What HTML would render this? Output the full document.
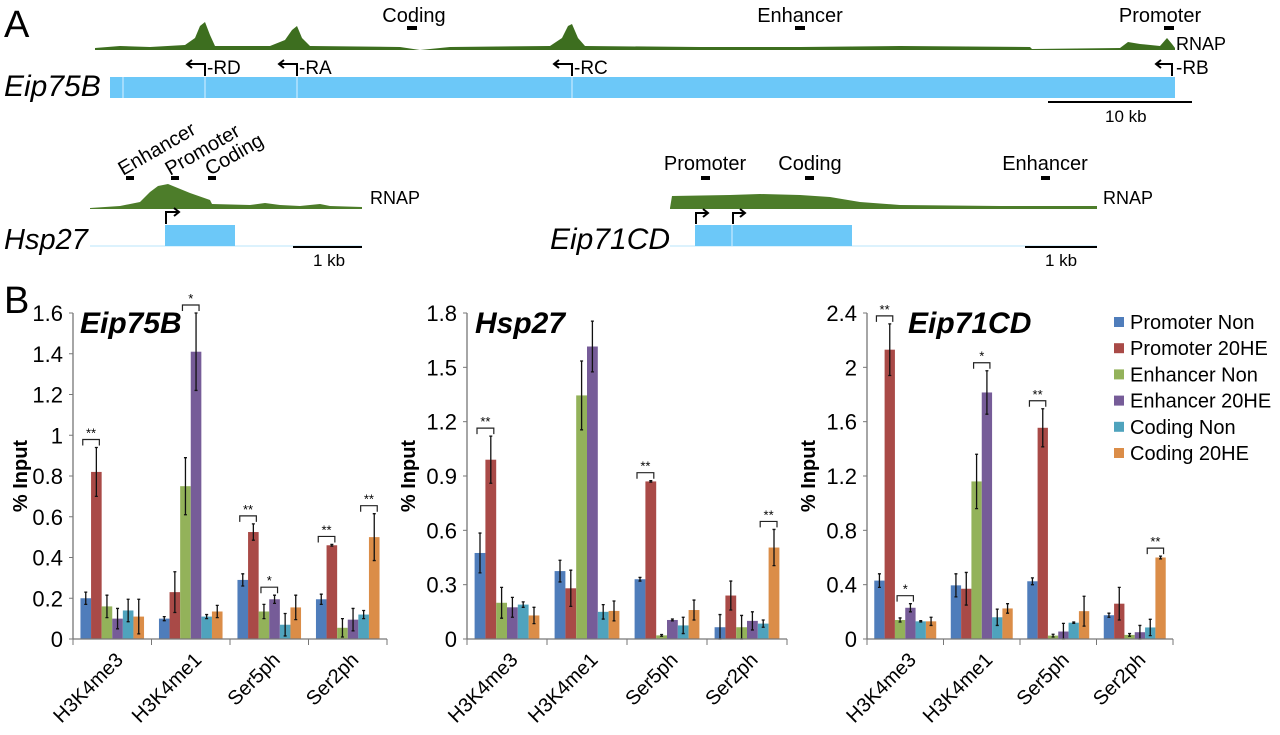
<!DOCTYPE html>
<html><head><meta charset="utf-8"><style>
html,body{margin:0;padding:0;background:#fff;}
svg{display:block;font-family:"Liberation Sans",sans-serif;}
</style></head><body>
<svg id="fig" width="1280" height="735" viewBox="0 0 1280 735">
<g id="panelA">
<text x="4" y="37" font-size="38">A</text>
<path fill="#3d6e1f" d="M95,48 L120,46 L150,47 L185,45 L195,38 L200,26 L205,22 L210,35 L215,46 L270,46 L285,40 L292,30 L297,26 L302,38 L310,46 L400,47 L420,50 L450,47 L550,46 L562,38 L568,26 L572,24 L578,38 L585,46 L700,47 L800,47 L900,46 L1030,47 L1032,49 L1120,48 L1128,42 L1140,44 L1160,46 L1167,38 L1172,44 L1175,48 L1175,50 L95,50 Z"/>
<text x="414" y="22" font-size="20" text-anchor="middle">Coding</text>
<rect x="407" y="26" width="10" height="4" fill="#000"/>
<text x="800" y="22" font-size="20" text-anchor="middle">Enhancer</text>
<rect x="795" y="26" width="10" height="4" fill="#000"/>
<text x="1160" y="22" font-size="20" text-anchor="middle">Promoter</text>
<rect x="1164" y="26" width="10" height="4" fill="#000"/>
<text x="1176" y="50" font-size="18">RNAP</text>
<g stroke="#000" stroke-width="2" fill="none">
<path d="M205,76 V64 H188 M192,60 L187,64 L192,68"/>
<path d="M297,76 V64 H280 M284,60 L279,64 L284,68"/>
<path d="M572,76 V64 H555 M559,60 L554,64 L559,68"/>
<path d="M1172,76 V64 H1157 M1161,60 L1156,64 L1161,68"/>
</g>
<text x="207" y="74" font-size="19">-RD</text>
<text x="299" y="74" font-size="19">-RA</text>
<text x="574" y="74" font-size="19">-RC</text>
<text x="1176" y="74" font-size="19">-RB</text>
<text x="4" y="96" font-size="30" font-style="italic">Eip75B</text>
<rect x="110" y="77" width="1065" height="21" fill="#6cc8f8"/>
<g stroke="#d8f0ff" stroke-width="1"><line x1="123" y1="77" x2="123" y2="98"/><line x1="205" y1="77" x2="205" y2="98"/><line x1="297" y1="77" x2="297" y2="98"/><line x1="572" y1="77" x2="572" y2="98"/></g>
<line x1="1048" y1="102" x2="1192" y2="102" stroke="#000" stroke-width="2"/>
<text x="1105" y="122" font-size="17">10 kb</text>
<text font-size="20" transform="translate(123,176) rotate(-30)">Enhancer</text>
<text font-size="20" transform="translate(170,176) rotate(-30)">Promoter</text>
<text font-size="20" transform="translate(210,176) rotate(-30)">Coding</text>
<rect x="126" y="176" width="8" height="4" fill="#000"/><rect x="171" y="176" width="8" height="4" fill="#000"/><rect x="208" y="176" width="8" height="4" fill="#000"/>
<path fill="#4d7d2a" d="M90,208 L120,206 L140,202 L150,192 L158,186 L168,184 L190,193 L210,200 L212,204 L250,205 L265,203 L280,205 L300,206 L320,204 L330,206 L362,207 L362,209 L90,209 Z"/>
<text x="370" y="204" font-size="18">RNAP</text>
<path d="M166,224 V212 H178 M174,208 L179,212 L174,216" stroke="#000" stroke-width="2" fill="none"/>
<text x="4" y="249" font-size="29" font-style="italic">Hsp27</text>
<line x1="90" y1="246" x2="362" y2="246" stroke="#b8e4fb" stroke-width="1"/>
<rect x="165" y="225" width="70" height="21" fill="#6cc8f8"/>
<line x1="293" y1="247" x2="362" y2="247" stroke="#000" stroke-width="2"/>
<text x="313" y="266" font-size="17">1 kb</text>
<text x="705" y="170" font-size="20" text-anchor="middle">Promoter</text>
<text x="810" y="170" font-size="20" text-anchor="middle">Coding</text>
<text x="1045" y="170" font-size="20" text-anchor="middle">Enhancer</text>
<rect x="701" y="176" width="9" height="4" fill="#000"/><rect x="805" y="176" width="9" height="4" fill="#000"/><rect x="1041" y="176" width="9" height="4" fill="#000"/>
<path fill="#4d7d2a" d="M670,208 L672,196 L730,195 L760,194 L800,195 L830,197 L860,202 L900,205 L1000,206 L1097,206 L1097,209 L670,209 Z"/>
<text x="1103" y="204" font-size="18">RNAP</text>
<path d="M696,224 V213 H707 M703,209 L708,213 L703,217 M733,224 V213 H744 M740,209 L745,213 L740,217" stroke="#000" stroke-width="2" fill="none"/>
<text x="550" y="249" font-size="30" font-style="italic">Eip71CD</text>
<line x1="670" y1="246" x2="1097" y2="246" stroke="#b8e4fb" stroke-width="1"/>
<rect x="695" y="225" width="157" height="21" fill="#6cc8f8"/>
<line x1="732" y1="225" x2="732" y2="246" stroke="#d8f0ff"/>
<line x1="1025" y1="247" x2="1097" y2="247" stroke="#000" stroke-width="2"/>
<text x="1045" y="266" font-size="17">1 kb</text>
</g>
<text x="4" y="313" font-size="38">B</text>
<g id="charts"></g>
<g id="legend"></g>
</svg>
<script>
const categories = ["H3K4me3","H3K4me1","Ser5ph","Ser2ph"];
const seriesNames = ["Promoter Non","Promoter 20HE","Enhancer Non","Enhancer 20HE","Coding Non","Coding 20HE"];
const seriesColors = ["#4f7dbb","#a94a47","#93b25a","#765c98","#4fa3bd","#db8d48"];
const chartTitles = ["Eip75B","Hsp27","Eip71CD"];
const yMaxes = [1.6,1.8,2.4];
const yTicks1 = [0,0.2,0.4,0.6,0.8,1,1.2,1.4,1.6];
const yTicks2 = [0,0.3,0.6,0.9,1.2,1.5,1.8];
const yTicks3 = [0,0.4,0.8,1.2,1.6,2,2.4];
const eip75bValues = [[0.20,0.82,0.16,0.10,0.14,0.11],[0.10,0.23,0.75,1.41,0.11,0.135],[0.29,0.525,0.135,0.195,0.07,0.155],[0.195,0.46,0.055,0.095,0.12,0.50]];
const eip75bErrors = [[0.03,0.12,0.055,0.05,0.055,0.085],[0.01,0.10,0.14,0.19,0.01,0.03],[0.03,0.04,0.035,0.02,0.055,0.06],[0.025,0.004,0.045,0.055,0.02,0.115]];
const hsp27Values = [[0.475,0.99,0.20,0.175,0.19,0.13],[0.375,0.28,1.345,1.615,0.15,0.155],[0.33,0.87,0.02,0.105,0.075,0.16],[0.065,0.24,0.065,0.10,0.085,0.505]];
const hsp27Errors = [[0.11,0.13,0.085,0.055,0.015,0.045],[0.06,0.10,0.19,0.14,0.04,0.055],[0.01,0.004,0.005,0.005,0.045,0.055],[0.07,0.08,0.065,0.05,0.02,0.10]];
const eip71cdValues = [[0.43,2.13,0.14,0.23,0.13,0.13],[0.395,0.37,1.16,1.815,0.16,0.225],[0.425,1.555,0.025,0.055,0.12,0.205],[0.175,0.26,0.03,0.05,0.085,0.60]];
const eip71cdErrors = [[0.05,0.19,0.015,0.03,0.005,0.03],[0.085,0.12,0.2,0.16,0.06,0.035],[0.025,0.14,0.01,0.06,0.005,0.11],[0.015,0.12,0.01,0.05,0.06,0.01]];
const eip75bSig = [[0,0,1,"**"],[1,2,3,"*"],[2,0,1,"**"],[2,2,3,"*"],[3,0,1,"**"],[3,4,5,"**"]];
const hsp27Sig = [[0,0,1,"**"],[2,0,1,"**"],[3,4,5,"**"]];
const eip71cdSig = [[0,0,1,"**"],[0,2,3,"*"],[1,2,3,"*"],[2,0,1,"**"],[3,4,5,"**"]];

const NS="http://www.w3.org/2000/svg";
function mk(tag, attrs, parent){const e=document.createElementNS(NS,tag);for(const k in attrs)e.setAttribute(k,attrs[k]);parent.appendChild(e);return e;}
const layouts=[{x0:73,x1:387,titleX:80,labX:20},{x0:467,x1:787,titleX:475,labX:408},{x0:867,x1:1173,titleX:908,labX:808}];
const Y0=639, YTOP=313;
const all=[[eip75bValues,eip75bErrors,eip75bSig,yTicks1],[hsp27Values,hsp27Errors,hsp27Sig,yTicks2],[eip71cdValues,eip71cdErrors,eip71cdSig,yTicks3]];
const root=document.getElementById('charts');
all.forEach((d,ci)=>{
  const [vals,errs,sigs,ticks]=d; const L=layouts[ci]; const ymax=yMaxes[ci];
  const y=v=>Y0-(v/ymax)*(Y0-YTOP);
  const gw=(L.x1-L.x0)/categories.length, bw=gw*0.135, off=(gw-6*bw)/2;
  const bx=(c,s)=>L.x0+c*gw+off+s*bw;
  const g=mk('g',{},root);
  
  
  ticks.forEach(t=>{
    const tx=mk('text',{x:L.x0-10,y:y(t)+8,'font-size':22,'text-anchor':'end'},g);
    
    
    tx.textContent=String(t);
    mk('line',{x1:L.x0-4,x2:L.x0,y1:y(t),y2:y(t),stroke:'#777'},g);
  });
  const yl=mk('text',{transform:`translate(${L.labX+7},${476}) rotate(-90)`,'font-size':20,'font-weight':'bold','text-anchor':'middle'},g);
  
  
  yl.textContent='% Input';
  const ti=mk('text',{x:L.titleX,y:YTOP+20,'font-size':30,'font-weight':'bold','font-style':'italic'},g);
  
  
  ti.textContent=chartTitles[ci];
  vals.forEach((row,c)=>{row.forEach((v,s)=>{
    const r=mk('rect',{x:bx(c,s),y:y(v),width:bw,height:Y0-y(v),fill:seriesColors[s]},g);
    
    
    const cx=bx(c,s)+bw/2, e=errs[c][s];
    const eb=mk('path',{d:`M${cx},${y(v+e)}V${y(Math.max(0,v-e))}M${cx-1.5},${y(v+e)}h3M${cx-1.5},${y(Math.max(0,v-e))}h3`,stroke:'#111','stroke-width':1.3,fill:'none'},g);
    
    
  });});
  mk('line',{x1:L.x0,x2:L.x0,y1:YTOP,y2:Y0,stroke:'#777','stroke-width':1.3},g);
  mk('line',{x1:L.x0,x2:L.x1,y1:Y0,y2:Y0,stroke:'#777','stroke-width':1.3},g);
  for(let c=0;c<=categories.length;c++) mk('line',{x1:L.x0+c*gw,x2:L.x0+c*gw,y1:Y0,y2:Y0+6,stroke:'#777'},g);
  categories.forEach((cat,c)=>{
    const ex=L.x0+c*gw+gw/2+12, ey=Y0+22;
    const t=mk('text',{transform:`translate(${ex},${ey}) rotate(-45)`,'font-size':20,'text-anchor':'end'},g);
    
    
    t.textContent=cat;
  });
  sigs.forEach(([c,a,b,st])=>{
    const top=Math.max(vals[c][a]+errs[c][a],vals[c][b]+errs[c][b]);
    const yy=y(top)-8, xa=bx(c,a)+bw/2-3, xb=bx(c,b)+bw/2+3;
    const p=mk('path',{d:`M${xa},${yy+6}V${yy}H${xb}V${yy+6}`,stroke:'#222','stroke-width':1.2,fill:'none'},g);
    
    
    const s=mk('text',{x:(xa+xb)/2,y:yy-2,'font-size':13,'text-anchor':'middle'},g);
    
    
    s.textContent=st;
  });
});
const lg=document.getElementById('legend');
seriesNames.forEach((n,i)=>{
  const yy=322+i*26.2;
  const r=mk('rect',{x:1114,y:yy-5,width:10,height:10,fill:seriesColors[i]},lg);
  
  
  const t=mk('text',{x:1130,y:yy+7,'font-size':20},lg);
  
  
  t.textContent=n;
});
</script>
</body></html>
